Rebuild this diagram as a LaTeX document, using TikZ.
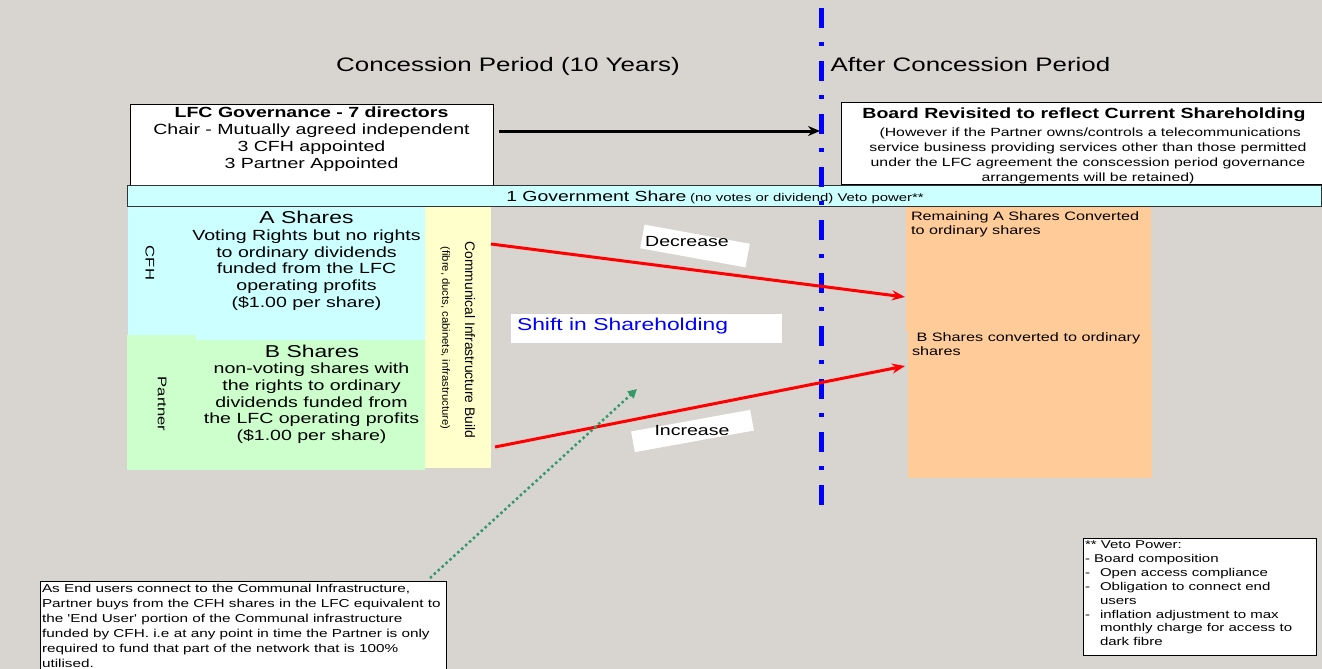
\documentclass[tikz,border=0pt]{standalone}
\usepackage{fontspec}
\setmainfont{Liberation Sans}[FakeStretch=1.33]
\newfontfamily\plainfont{Liberation Sans}
\newfontfamily\qfont{Liberation Sans}[FakeStretch=1.33,Ligatures=TeXOff]
\usetikzlibrary{arrows.meta}
\definecolor{bgc}{RGB}{216,212,208}
\definecolor{cyanc}{RGB}{204,255,255}
\definecolor{greenc}{RGB}{204,255,204}
\definecolor{yellowc}{RGB}{255,255,204}
\definecolor{orangec}{RGB}{255,204,153}
\definecolor{dotc}{RGB}{51,153,102}
\definecolor{bluec}{RGB}{0,0,255}
\definecolor{redc}{RGB}{255,0,0}
\newcommand\fsz[2]{\fontsize{#1}{#2}\selectfont}
\begin{document}
\begin{tikzpicture}[x=1pt,y=-1pt,
  blk/.style={anchor=north west,inner sep=0pt,outer sep=0pt},
  txt/.style={inner sep=0pt,outer sep=0pt,text=black},
  redarr/.style={draw=redc,line width=3pt,-{Stealth[length=13pt,width=10pt]}},
  blackarr/.style={draw=black,line width=3pt,-{Stealth[length=12pt,width=10pt]}},
  greenarr/.style={draw=dotc,line width=2.5pt,dash pattern=on 2.5pt off 2.8pt,-{Triangle[length=9pt,width=9pt]}},
  whitebox/.style={fill=white,inner sep=0pt,outer sep=0pt}]
\fill[bgc] (0,0) rectangle (1322,669);
\useasboundingbox (0,0) rectangle (1322,669);

% titles
\node[txt,anchor=base,font=\fsz{19.5}{23}] (t1) at (508,71) {Concession Period (10 Years)};
\node[txt,anchor=base,font=\fsz{19.5}{23}] (t2) at (970.5,71) {After Concession Period};

% governance boxes
\node[blk,fill=white,draw=black,line width=1pt,minimum width=363pt,minimum height=81pt] (lfc) at (130,104) {};
\node[txt,anchor=north,align=center,font=\fsz{14.7}{17}] (lfct) at (311.5,106.6)
 {\textbf{LFC Governance - 7 directors}\\Chair - Mutually agreed independent\\3 CFH appointed\\3 Partner Appointed};
\node[blk,fill=white,draw=black,line width=1pt,minimum width=484pt,minimum height=82pt] (board) at (841,102) {};
\node[txt,anchor=base,font=\bfseries\fsz{14.7}{17}] (boardt) at (1084,118.3) {Board Revisited to reflect Current Shareholding};
\node[txt,anchor=north,align=center,font=\fsz{11.9}{15}] (boardb) at (1088,127.6)
 {\ (However if the Partner owns/controls a telecommunications\\service business providing services other than those permitted\\under the LFC agreement the conscession period governance\\arrangements will be retained)};

% government share bar
\node[blk,fill=cyanc,draw=black!80,line width=1pt,minimum width=1194pt,minimum height=21pt] (gov) at (127,185) {};
\node[txt,anchor=base] (govt) at (715,201)
 {{\fsz{14.6}{17}1 Government Share} {\fsz{11.2}{13}(no votes or dividend) Veto power**}};

% share blocks
\node[blk,fill=cyanc,minimum width=297pt,minimum height=133pt] (ablk) at (128,207) {};
\node[blk,fill=greenc,minimum width=69pt,minimum height=135pt] (pblk) at (127,335) {};
\node[blk,fill=greenc,minimum width=230pt,minimum height=130pt] (bblk) at (195,340) {};
\node[blk,fill=yellowc,minimum width=66pt,minimum height=261pt] (yblk) at (425,207) {};

\node[txt,rotate=-90,font=\fsz{12.5}{14}] (cfh) at (150,263) {CFH};
\node[txt,rotate=-90,font=\fsz{12.5}{14}] (partner) at (162,404) {Partner};

\node[txt,anchor=base,font=\fsz{17.2}{20}] (at) at (306.5,223.2) {A Shares};
\node[txt,anchor=north,align=center,font=\fsz{14.7}{16.8}] (ab) at (306.5,229.6)
 {Voting Rights but no rights\\to ordinary dividends\\funded from the LFC\\operating profits\\(\$1.00 per share)};
\node[txt,anchor=base,font=\fsz{17.2}{20}] (bt) at (312,357.2) {B Shares};
\node[txt,anchor=north,align=center,font=\fsz{14.7}{16.8}] (bb) at (311.5,362.8)
 {non-voting shares with\\the rights to ordinary\\dividends funded from\\the LFC operating profits\\(\$1.00 per share)};

\node[txt,rotate=-90,font=\plainfont\fsz{13.8}{16}] (comm) at (470,340) {Communical Infrastructure Build};
\node[txt,rotate=-90,font=\plainfont\fsz{10.5}{12}] (commb) at (445,338) {\scalebox{1.076}[1]{(fibre, ducts, cabinets, infrastructure)}};

% after-concession block
\node[blk,fill=orangec,minimum width=245pt,minimum height=124pt] (otop) at (906,207) {};
\node[blk,fill=orangec,minimum width=244pt,minimum height=148pt] (obot) at (908,330) {};
\node[txt,anchor=north west,align=left,font=\fsz{12.2}{14}] (ott) at (911,212) {Remaining A Shares Converted\\to ordinary shares};
\node[txt,anchor=north west,align=left,font=\fsz{12.2}{14}] (obt) at (912,333) {\ B Shares converted to ordinary\\shares};

% shift labels
\node[blk,fill=white,minimum width=271pt,minimum height=29pt] (shift) at (511,314) {};
\node[txt,anchor=base west,text=bluec,font=\fsz{17.2}{20}] (shiftt) at (517,330.2) {Shift in Shareholding};
\node[whitebox,minimum width=107pt,minimum height=24pt,rotate=-10.3] (decbox) at (695,246) {};
\node[txt,anchor=base,font=\fsz{14.7}{17}] (dect) at (687,246.5) {Decrease};
\node[whitebox,minimum width=121pt,minimum height=21pt,rotate=10.3] (incbox) at (692.5,431) {};
\node[txt,anchor=base,font=\fsz{14.7}{17}] (inct) at (692,435.3) {Increase};

% notes
\node[blk,fill=white,draw=black,line width=1pt,minimum width=406pt,minimum height=100pt] (note) at (40,581) {};
\node[txt,anchor=north west,align=left,font=\fsz{11.5}{15}] (notet) at (42,584.5)
 {As End users connect to the Communal Infrastructure,\\Partner buys from the CFH shares in the LFC equivalent to\\the {\qfont'}End User{\qfont'} portion of the Communal infrastructure\\funded by CFH. i.e at any point in time the Partner is only\\required to fund that part of the network that is 100\%\\utilised.};
\node[blk,fill=white,draw=black,line width=1pt,minimum width=233pt,minimum height=117pt] (veto) at (1083,538) {};
\node[txt,anchor=north west,align=left,font=\fsz{11.3}{13.9}] (vetot) at (1085,540.8)
 {** Veto Power:\\- Board composition\\\makebox[15pt][l]{-}Open access compliance\\\makebox[15pt][l]{-}Obligation to connect end\\\hspace*{15pt}users\\\makebox[15pt][l]{-}inflation adjustment to max\\\hspace*{15pt}monthly charge for access to\\\hspace*{15pt}dark fibre};

% divider
\coordinate (divtop) at (821,8);
\coordinate (divbot) at (821,516);
\draw[bluec,line width=5pt,dash pattern=on 20pt off 14pt on 4pt off 15pt] (divtop) -- (divbot);

% connectors
\coordinate (ba1) at (499,131);
\coordinate (ba2) at (820,131);
\draw[blackarr] (ba1) -- (ba2);
\coordinate (ra1) at (491,244);
\coordinate (ra2) at (905,297);
\draw[redarr] (ra1) -- (ra2);
\coordinate (rb1) at (495,447);
\coordinate (rb2) at (905,366);
\draw[redarr] (rb1) -- (rb2);
\coordinate (ga1) at (430,578);
\coordinate (ga2) at (637,389);
\draw[greenarr] (ga1) -- (ga2);
\end{tikzpicture}
\end{document}
